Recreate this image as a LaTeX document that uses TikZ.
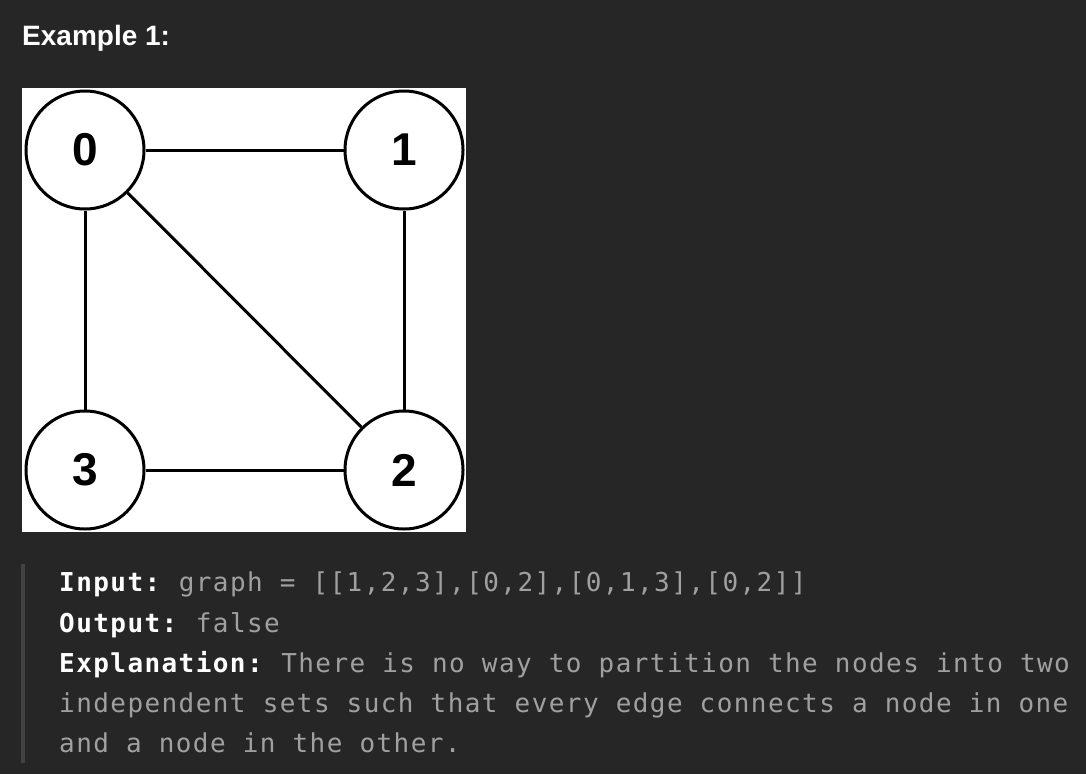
\documentclass[tikz,border=0pt]{standalone}
\usepackage{fontspec}
\setmainfont{Liberation Sans}
\newfontfamily\codefont[LetterSpace=5.5]{DejaVu Sans Mono}
\usetikzlibrary{positioning}
\definecolor{PanelDark}{RGB}{38,38,38}
\definecolor{QuoteBar}{RGB}{66,66,66}
\definecolor{CodeGray}{RGB}{160,160,160}
\definecolor{LabelWhite}{RGB}{255,255,255}
\tikzset{
  vertex/.style={circle,draw=black,fill=white,line width=3pt,
    minimum size=118pt,inner sep=0pt,font=\fontsize{46}{46}\selectfont\bfseries},
  edge/.style={draw=black,line width=3pt},
  codeline/.style={anchor=base west,inner sep=0pt,text=CodeGray,
    font=\codefont\fontsize{26}{26}\selectfont},
  heading/.style={anchor=base west,inner sep=0pt,text=LabelWhite,
    font=\fontsize{28}{28}\selectfont\bfseries}
}
\newcommand{\lbl}[1]{\textcolor{LabelWhite}{\textbf{#1}}}

\begin{document}
\frenchspacing
\begin{tikzpicture}[x=1pt,y=-1pt]
  \useasboundingbox (0,0) rectangle (1086,774);
  \fill[PanelDark] (0,0) rectangle (1086,774);

  % Title
  \node[heading] (title) at (22,45) {Example 1:};

  % Graph picture on white
  \fill[white] (22,88) rectangle (466,532);
  \node[vertex] (n0) at (85,150) {0};
  \node[vertex] (n1) at (404,150) {1};
  \node[vertex] (n2) at (404,470) {2};
  \node[vertex] (n3) at (85,470) {3};
  \draw[edge] (n0) -- (n1);
  \draw[edge] (n0) -- (n3);
  \draw[edge] (n0) -- (n2);
  \draw[edge] (n1) -- (n2);
  \draw[edge] (n3) -- (n2);

  % Quote block with input / output
  \fill[QuoteBar] (21,564) rectangle (25,763);
  \node[codeline] (inputline) at (59,591) {\lbl{Input:} graph = [[1,2,3],[0,2],[0,1,3],[0,2]]};
  \node[codeline] (outputline) at (59,632) {\lbl{Output:} false};
  \node[codeline] (explline) at (59,672) {\lbl{Explanation:} There is no way to partition the nodes into two};
  \node[codeline] (explline2) at (59,712) {independent sets such that every edge connects a node in one};
  \node[codeline] (explline3) at (59,752) {and a node in the other.};
\end{tikzpicture}
\end{document}
